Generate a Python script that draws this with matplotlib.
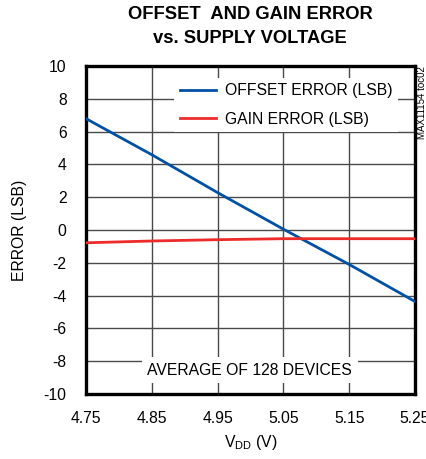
import matplotlib
matplotlib.use("Agg")
import matplotlib.pyplot as plt

# supply voltage (V) and measured errors (LSB)
vdd = [4.75, 4.85, 4.95, 5.05, 5.15, 5.25]
offset_err = [6.79, 4.59, 2.28, 0.05, -2.10, -4.36]
gain_err = [-0.78, -0.67, -0.59, -0.53, -0.53, -0.53]

x_ticks = [4.75, 4.85, 4.95, 5.05, 5.15, 5.25]
y_ticks = [-10, -8, -6, -4, -2, 0, 2, 4, 6, 8, 10]

plt.rcParams['font.family'] = ['Liberation Sans Narrow', 'Liberation Sans', 'DejaVu Sans']
fs = 11.3

fig = plt.figure(figsize=(4.27, 4.59), dpi=100)
ax = fig.add_axes([0.2014, 0.1416, 0.7705, 0.7146])

ax.plot(vdd, offset_err, color='#0050a4', lw=2.0, label='OFFSET ERROR (LSB)', zorder=3)
ax.plot(vdd, gain_err, color='#ee2b2b', lw=2.0, label='GAIN ERROR (LSB)', zorder=3)

ax.set_xlim(4.75, 5.25)
ax.set_ylim(-10, 10)
ax.set_xticks(x_ticks)
ax.set_xticklabels(['%.2f' % v for v in x_ticks])
ax.set_yticks(y_ticks)
ax.set_yticklabels([str(v) for v in y_ticks])
ax.tick_params(length=0, labelsize=fs, pad=12)
ax.tick_params(axis='y', pad=14)
ax.grid(True, color='#4a4a4a', lw=1.0, zorder=1)
for s in ax.spines.values():
    s.set_linewidth(2.4)
    s.set_color('black')

leg = ax.legend(loc='upper right', bbox_to_anchor=(0.971, 0.988), fontsize=fs,
                frameon=True, fancybox=False, handlelength=2.3, handletextpad=0.55,
                borderpad=0.35, labelspacing=0.85)
leg.get_frame().set_edgecolor('none')
leg.get_frame().set_facecolor('white')
leg.get_frame().set_alpha(1)

ax.text(0.498, 0.073, 'AVERAGE OF 128 DEVICES', transform=ax.transAxes, ha='center',
        va='center', fontsize=fs, zorder=4,
        bbox=dict(facecolor='white', edgecolor='none', pad=4))

ax.set_ylabel('ERROR (LSB)', fontsize=fs, labelpad=12)
ax.set_xlabel(r'V$_{\mathregular{DD}}$ (V)', fontsize=fs, labelpad=5)

fig.text(0.586, 0.988, 'OFFSET  AND GAIN ERROR\nvs. SUPPLY VOLTAGE', ha='center',
         va='top', fontsize=13.2, fontweight='bold', linespacing=1.55)
fig.text(0.988, 0.856, 'MAX11154 toc02', rotation=90, ha='center', va='top', fontsize=7)

fig.savefig('out.png', dpi=100)
